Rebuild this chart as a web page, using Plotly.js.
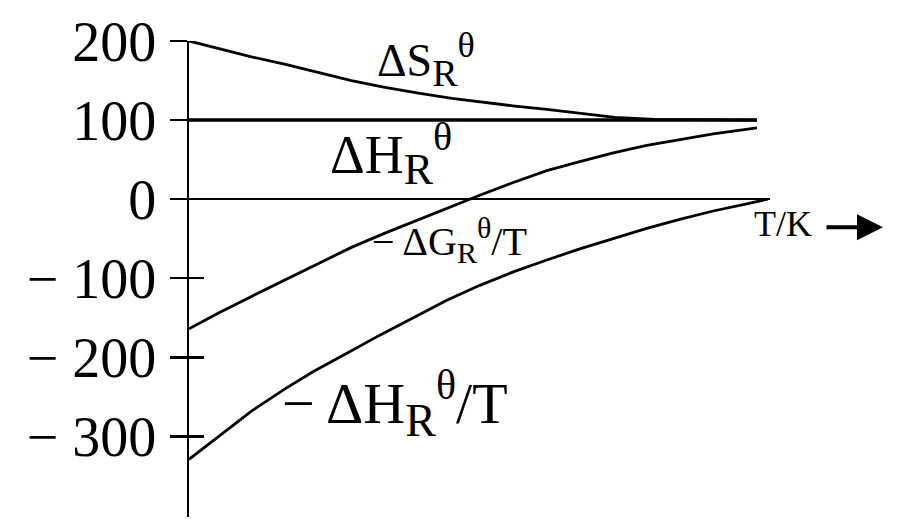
<!DOCTYPE html>
<html>
<head>
<meta charset="utf-8">
<script src="https://cdn.plot.ly/plotly-3.0.1.min.js"></script>
<style>
  html, body { margin: 0; padding: 0; background: #fff; }
  #chart1 { width: 900px; height: 532px; }
</style>
</head>
<body>
<div id="chart1"></div>
<script>
// values (T in arbitrary units, 0..100)
var tS = [0, 5, 11, 17, 23, 28.6, 34.5, 40.4, 46.3, 52, 57, 63, 69, 75, 82, 90, 100];
var dS = [200, 191, 180, 170.5, 160, 150, 141.5, 134, 127.5, 122, 118, 113.5, 108.5, 103.5, 101, 100.3, 100];

var tH = [0, 100];
var dH = [100, 100];

var tG = [0, 5.2, 11, 16.9, 22.8, 28.6, 34.5, 40.4, 46.3, 51.2, 57.1, 63, 68.8, 74.7, 80.6, 86.4, 92.3, 100];
var dG = [-164, -144, -123, -102.5, -81, -61, -43, -26, -9, 5, 21, 36, 47.5, 58.5, 68, 75.5, 82.5, 90];

var tHT = [0, 5.2, 11, 16.9, 21.9, 27.8, 33.6, 39.5, 45.4, 51.2, 57.1, 63, 68.8, 74.7, 80.6, 86.4, 92.3, 98.2, 101.9];
var dHT = [-329, -300, -268, -240, -218, -195, -172, -150, -128, -109, -92, -77, -63, -50, -37, -25.5, -15, -6, 0];

var tickVals = [200, 100, 0, -100, -200, -300];
var tickText = ['200', '100', '0', '\u2212 100', '\u2212 200', '\u2212 300'];

var serif = 'Liberation Serif, DejaVu Serif, serif';

function curve(x, y, w) {
  return {
    x: x, y: y, type: 'scatter', mode: 'lines',
    line: { color: '#000', width: w },
    cliponaxis: false, hoverinfo: 'skip'
  };
}

// symbol with subscript R and superscript theta, sub/sup kept large like the original
function sym(head, sub, sup, tail) {
  return head + '<sub><span style="font-size:' + sub + 'px">R</span></sub>' +
    '<sup><span style="font-size:' + sup + 'px">\u03b8</span></sup>' + (tail || '');
}

// label placed on the page (x in data units, y as fraction of plot height)
function label(x, y, text, size) {
  return { x: x, y: y, yref: 'paper', xanchor: 'left', yanchor: 'top', showarrow: false,
    text: text, font: { family: serif, size: size, color: '#000' } };
}

var data = [
  curve(tS, dS, 2.8),
  curve(tH, dH, 3.4),
  curve(tG, dG, 2.8),
  curve(tHT, dHT, 2.8)
];

var yax = {
  range: [-402, 200],
  tickvals: tickVals,
  ticktext: tickText,
  ticks: 'outside',
  ticklen: 17,
  tickwidth: 2.5,
  tickcolor: '#000',
  showline: true,
  linecolor: '#000',
  linewidth: 2.5,
  showgrid: false,
  zeroline: true,
  zerolinecolor: '#000',
  zerolinewidth: 2.2,
  ticklabelstandoff: 2,
  tickfont: { family: serif, size: 56, color: '#000' }
};

var layout = {
  width: 900,
  height: 532,
  margin: { l: 189, r: 130, t: 41, b: 15 },
  paper_bgcolor: '#fff',
  plot_bgcolor: '#fff',
  showlegend: false,
  xaxis: { range: [0, 102.3], visible: false },
  yaxis: yax,
  // second copy of the y axis only for the ticks on the right side
  yaxis2: {
    range: [-402, 200], overlaying: 'y', side: 'left',
    tickvals: tickVals, ticks: 'inside', ticklen: 15, tickwidth: 2.5, tickcolor: '#000',
    showticklabels: false, showgrid: false, zeroline: false, showline: false
  },
  annotations: [
    label(32.7, 1.038, sym('\u0394S', 38, 36), 46),
    label(24.5, 0.851, sym('\u0394H', 44, 40), 54),
    label(31.8, 0.647, sym('\u2212 \u0394G', 30, 30, '/T'), 40),
    label(16, 0.33, sym('\u2212 \u0394H', 46, 42, '/T'), 58),
    label(99.1, 0.662, 'T/K', 36),
    { xref: 'paper', x: 1.1945, y: -35.4, axref: 'pixel', ax: -58, ay: 0, text: '',
      showarrow: true, arrowhead: 2, arrowsize: 1.3, arrowwidth: 4, arrowcolor: '#000' }
  ]
};

// dummy trace so yaxis2 gets drawn
data.push({ x: [0], y: [0], yaxis: 'y2', type: 'scatter', mode: 'markers',
  marker: { opacity: 0 }, hoverinfo: 'skip' });

Plotly.newPlot('chart1', data, layout, { staticPlot: true });
</script>
</body>
</html>
